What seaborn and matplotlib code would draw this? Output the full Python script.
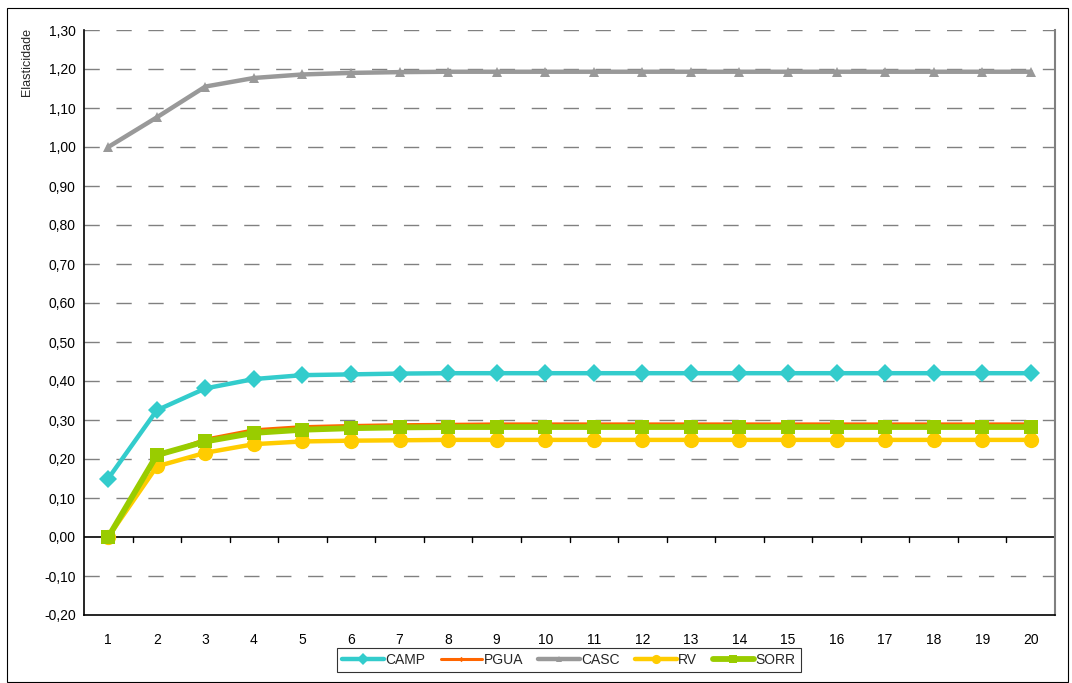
import matplotlib
matplotlib.use("Agg")
import matplotlib.pyplot as plt
import seaborn as sns
import pandas as pd
from matplotlib.patches import Rectangle
from matplotlib.ticker import FixedLocator, FuncFormatter

periods = list(range(1, 21))
camp = [0.150, 0.325, 0.381, 0.405, 0.415, 0.417, 0.419, 0.420, 0.420, 0.420,
        0.420, 0.420, 0.420, 0.420, 0.420, 0.420, 0.420, 0.420, 0.420, 0.420]
pgua = [0.000, 0.206, 0.251, 0.275, 0.283, 0.286, 0.288, 0.289, 0.290, 0.290,
        0.290, 0.290, 0.290, 0.290, 0.290, 0.290, 0.290, 0.290, 0.290, 0.290]
casc = [1.000, 1.076, 1.155, 1.177, 1.186, 1.190, 1.192, 1.193, 1.193, 1.193,
        1.193, 1.193, 1.193, 1.193, 1.193, 1.193, 1.193, 1.193, 1.193, 1.193]
rv = [0.000, 0.181, 0.216, 0.238, 0.245, 0.247, 0.248, 0.249, 0.249, 0.249,
      0.249, 0.249, 0.249, 0.249, 0.249, 0.249, 0.249, 0.249, 0.249, 0.249]
sorr = [0.000, 0.210, 0.245, 0.267, 0.275, 0.279, 0.281, 0.282, 0.282, 0.282,
        0.282, 0.282, 0.282, 0.282, 0.282, 0.282, 0.282, 0.282, 0.282, 0.282]
series_names = ["CAMP", "PGUA", "CASC", "RV", "SORR"]
y_ticks = [-0.2, -0.1, 0.0, 0.1, 0.2, 0.3, 0.4, 0.5, 0.6, 0.7, 0.8, 0.9, 1.0, 1.1, 1.2, 1.3]

sns.set_theme(style="white")
plt.rcParams["font.family"] = ["Liberation Sans", "DejaVu Sans"]

values = {"CAMP": camp, "PGUA": pgua, "CASC": casc, "RV": rv, "SORR": sorr}
df = pd.DataFrame([{"Periodo": p, "Serie": s, "Elasticidade": v}
                   for s in series_names for p, v in zip(periods, values[s])])

styles = {
    "CAMP": dict(color="#33CCCC", lw=3.2, marker="D", ms=9.5),
    "PGUA": dict(color="#FF6600", lw=2.2, marker="D", ms=4.5),
    "CASC": dict(color="#999999", lw=3.2, marker="^", ms=7),
    "RV": dict(color="#FFCC00", lw=3.2, marker="o", ms=11),
    "SORR": dict(color="#99CC00", lw=4.2, marker="s", ms=9.5),
}

fig = plt.figure(figsize=(10.72, 6.83), dpi=100)
ax = fig.add_axes([84 / 1072, 1 - 615 / 683, (1055 - 84) / 1072, (615 - 30) / 683])

fig.patches.append(Rectangle((7 / 1072, 1 / 683), (1068 - 7) / 1072, (675 - 1) / 683,
                             transform=fig.transFigure, fill=False, edgecolor="#000000",
                             lw=0.8, zorder=0))

for s in series_names:
    st = styles[s]
    sns.lineplot(data=df[df["Serie"] == s], x="Periodo", y="Elasticidade", ax=ax,
                 color=st["color"], linewidth=st["lw"], marker=st["marker"],
                 markersize=st["ms"], markeredgewidth=0, markeredgecolor=st["color"],
                 label=s, legend=False)

ax.set_xlim(0.5, 20.5)
ax.set_ylim(-0.2, 1.3)
ax.set_xticks(periods)
ax.set_xticklabels([str(p) for p in periods], fontsize=10, color="#000000")
ax.tick_params(axis="x", length=0, pad=13)
ax.yaxis.set_major_locator(FixedLocator(y_ticks))
ax.yaxis.set_major_formatter(FuncFormatter(lambda v, _: f"{v:.2f}".replace(".", ",").replace("-0,00", "0,00")))
ax.tick_params(axis="y", labelsize=10, length=4, width=1, color="#000000", direction="out", pad=2,
               labelcolor="#000000")

for yv in y_ticks:
    if abs(yv) < 1e-9 or yv < -0.15:
        continue
    ax.axhline(yv, color="#808080", lw=1, ls=(0, (11, 12)), zorder=0.5)

ax.axhline(0, color="#000000", lw=1.2, zorder=1)
for xb in [p + 0.5 for p in periods[:-1]]:
    ax.plot([xb, xb], [0, -0.012], color="#000000", lw=1, zorder=1, clip_on=False)

for side in ["left", "bottom"]:
    ax.spines[side].set_color("#000000")
    ax.spines[side].set_linewidth(1.2)
ax.spines["right"].set_color("#808080")
ax.spines["right"].set_linewidth(1.5)
ax.spines["top"].set_visible(False)

ax.set_xlabel("")
ax.set_ylabel("")
fig.text(27 / 1072, 1 - 28 / 683, "Elasticidade", rotation=90, ha="center", va="top", fontsize=9)

handles, labels = ax.get_legend_handles_labels()
leg = fig.legend(handles, labels, loc="center", bbox_to_anchor=(569 / 1072, 1 - 660 / 683),
                 ncol=5, frameon=True, fontsize=10, handlelength=3.0, handletextpad=0.1,
                 columnspacing=1.1, borderpad=0.35, fancybox=False, markerscale=0.6)
leg.get_frame().set_edgecolor("#000000")
leg.get_frame().set_linewidth(0.8)

fig.savefig("out.png", dpi=100)
